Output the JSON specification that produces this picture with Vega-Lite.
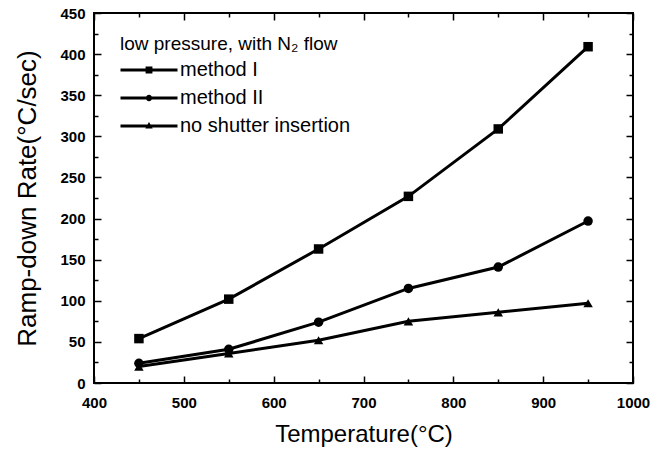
{
  "$schema": "https://vega.github.io/schema/vega-lite/v6.json",
  "width": 539,
  "height": 370,
  "autosize": {"type": "none"},
  "padding": {"left": 94, "top": 13, "right": 33, "bottom": 68},
  "background": "white",
  "config": {
    "font": "Liberation Sans",
    "view": {"stroke": "black", "strokeWidth": 2},
    "axis": {"grid": false, "domain": false, "tickColor": "black", "tickWidth": 1.5, "labelColor": "black", "titleColor": "black"}
  },
  "data": {
    "values": [
      {"T": 450, "R": 54, "series": "method I"},
      {"T": 550, "R": 102, "series": "method I"},
      {"T": 650, "R": 163, "series": "method I"},
      {"T": 750, "R": 227, "series": "method I"},
      {"T": 850, "R": 309, "series": "method I"},
      {"T": 950, "R": 409, "series": "method I"},
      {"T": 450, "R": 24, "series": "method II"},
      {"T": 550, "R": 41, "series": "method II"},
      {"T": 650, "R": 74, "series": "method II"},
      {"T": 750, "R": 115, "series": "method II"},
      {"T": 850, "R": 141, "series": "method II"},
      {"T": 950, "R": 197, "series": "method II"},
      {"T": 450, "R": 20, "series": "no shutter insertion"},
      {"T": 550, "R": 36, "series": "no shutter insertion"},
      {"T": 650, "R": 52, "series": "no shutter insertion"},
      {"T": 750, "R": 75, "series": "no shutter insertion"},
      {"T": 850, "R": 86, "series": "no shutter insertion"},
      {"T": 950, "R": 97, "series": "no shutter insertion"}
    ]
  },
  "layer": [
    {
      "mark": {"type": "line", "color": "black", "strokeWidth": 3},
      "encoding": {
        "x": {"field": "T", "type": "quantitative", "scale": {"domain": [400, 1000], "nice": false},
          "axis": {"orient": "bottom", "title": "Temperature(°C)", "values": [400,450,500,550,600,650,700,750,800,850,900,950,1000],
            "format": "d",
            "labelExpr": "datum.value % 100 === 0 ? datum.label : ''",
            "tickSize": {"condition": {"test": "datum.value % 100 === 0", "value": -7}, "value": -4},
            "labelPadding": 19, "labelFontSize": 15, "labelFontWeight": "bold", "titleFontSize": 24, "titleFontWeight": "normal", "titlePadding": 12, "labelFlush": false}},
        "y": {"field": "R", "type": "quantitative", "scale": {"domain": [0, 450], "nice": false},
          "axis": {"orient": "left", "title": "Ramp-down Rate(°C/sec)", "values": [0,25,50,75,100,125,150,175,200,225,250,275,300,325,350,375,400,425,450],
            "format": "d",
            "labelExpr": "datum.value % 50 === 0 ? datum.label : ''",
            "tickSize": {"condition": {"test": "datum.value % 50 === 0", "value": -7}, "value": -4},
            "labelPadding": 16, "labelFontSize": 15, "labelFontWeight": "bold", "titleFontSize": 26, "titleFontWeight": "normal", "titlePadding": 19, "labelFlush": false}},
        "detail": {"field": "series"}
      }
    },
    {
      "mark": {"type": "point", "filled": true, "color": "black", "size": 90, "opacity": 1},
      "encoding": {
        "x": {"field": "T", "type": "quantitative",
          "axis": {"orient": "top", "title": null, "labels": false, "values": [400,450,500,550,600,650,700,750,800,850,900,950,1000],
            "tickSize": {"condition": {"test": "datum.value % 100 === 0", "value": -7}, "value": -4}}},
        "y": {"field": "R", "type": "quantitative",
          "axis": {"orient": "right", "title": null, "labels": false, "values": [0,25,50,75,100,125,150,175,200,225,250,275,300,325,350,375,400,425,450],
            "tickSize": {"condition": {"test": "datum.value % 50 === 0", "value": -7}, "value": -4}}},
        "shape": {"field": "series", "type": "nominal", "scale": {"domain": ["method I", "method II", "no shutter insertion"], "range": ["square", "circle", "triangle-up"]}, "legend": null}
      }
    },
    {
      "mark": {"type": "point", "filled": true, "color": "black", "size": 361, "opacity": 0},
      "encoding": {
        "x": {"field": "T", "type": "quantitative", "axis": null},
        "y": {"field": "R", "type": "quantitative", "axis": null},
        "shape": {"field": "series", "type": "nominal",
          "scale": {"domain": ["method I", "method II", "no shutter insertion"],
            "range": [
              "M-3,-0.165H3V0.165H-3Z M-0.36,-0.36H0.36V0.36H-0.36Z",
              "M-3,-0.165H3V0.165H-3Z M0.33,0A0.33,0.33,0,1,1,-0.33,0A0.33,0.33,0,1,1,0.33,0Z",
              "M-3,-0.165H3V0.165H-3Z M0,-0.42L0.39,0.26H-0.39Z"
            ]},
          "legend": {"orient": "none", "legendX": 26, "legendY": 22, "title": "low pressure, with N₂ flow",
            "titleFontSize": 19, "titleFontWeight": "normal", "titleColor": "black", "titlePadding": 6, "titleLimit": 400,
            "labelFontSize": 20, "labelColor": "black", "labelLimit": 400, "symbolOpacity": 1, "symbolFillColor": "black", "symbolStrokeWidth": 0,
            "symbolSize": 361, "symbolOffset": 19, "labelOffset": 21, "rowPadding": 8}
        }
      }
    }
  ],
  "resolve": {"axis": {"x": "independent", "y": "independent"}, "scale": {"shape": "independent"}}
}
